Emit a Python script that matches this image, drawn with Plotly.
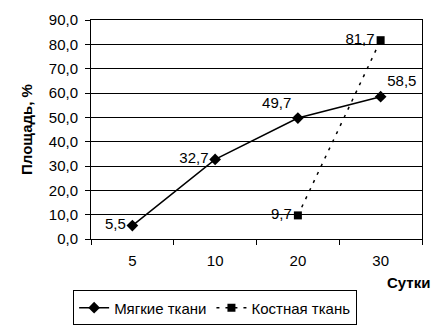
import plotly.graph_objects as go

categories = ["5", "10", "20", "30"]
soft_values = [5.5, 32.7, 49.7, 58.5]
bone_categories = ["20", "30"]
bone_values = [9.7, 81.7]
soft_name = "Мягкие ткани"
bone_name = "Костная ткань"

def fmt(v):
    return f"{v:.1f}".replace(".", ",")

FAM = "Liberation Sans, Arial, sans-serif"
font = dict(family=FAM, size=15, color="black")

fig = go.Figure()
fig.add_trace(go.Scatter(
    x=categories, y=soft_values, name=soft_name,
    mode="lines+markers+text",
    text=[fmt(v) for v in soft_values],
    textposition=["middle left", "middle left", "top left", "top right"],
    textfont=font, cliponaxis=False,
    line=dict(color="black", width=1.5),
    marker=dict(symbol="diamond", size=9, color="black"),
))
fig.add_trace(go.Scatter(
    x=bone_categories, y=bone_values, name=bone_name,
    mode="lines+markers+text",
    text=[fmt(v) for v in bone_values],
    textposition=["middle left", "middle left"],
    textfont=font, cliponaxis=False,
    line=dict(color="black", width=1.5, dash="3px,6px"),
    marker=dict(symbol="square", size=8, color="black"),
))

fig.update_layout(
    width=438, height=325,
    margin=dict(l=91, r=16, t=20, b=86, autoexpand=False),
    paper_bgcolor="white", plot_bgcolor="white",
    font=font,
    separators=", ",
    showlegend=True,
    legend=dict(orientation="h", x=0.375, xanchor="center", y=-0.235, yanchor="top",
                bordercolor="black", borderwidth=1, font=font,
                itemwidth=30, tracegroupgap=0),
    xaxis=dict(type="category", categoryorder="array", categoryarray=categories,
               range=[-0.5, 3.5],
               tickson="boundaries", ticks="outside", ticklen=5, tickcolor="black",
               ticklabelstandoff=8,
               showline=True, linecolor="black", mirror=True, showgrid=False,
               tickfont=font),
    yaxis=dict(range=[0, 90], dtick=10, tickformat=".1f", ticks="outside", ticklen=5,
               tickcolor="black", showline=True, linecolor="black", mirror=True,
               ticklabelstandoff=4,
               showgrid=True, gridcolor="black", gridwidth=1, zeroline=False,
               tickfont=font,
               title=dict(text="<b>Площадь, %</b>", font=dict(family=FAM, size=15, color="black"), standoff=12)),
    annotations=[dict(text="<b>Сутки</b>", xref="paper", yref="paper", x=1.03, y=-0.2,
                      xanchor="right", yanchor="middle", showarrow=False,
                      font=dict(family=FAM, size=15, color="black"))],
)

fig.write_html("out.html")
